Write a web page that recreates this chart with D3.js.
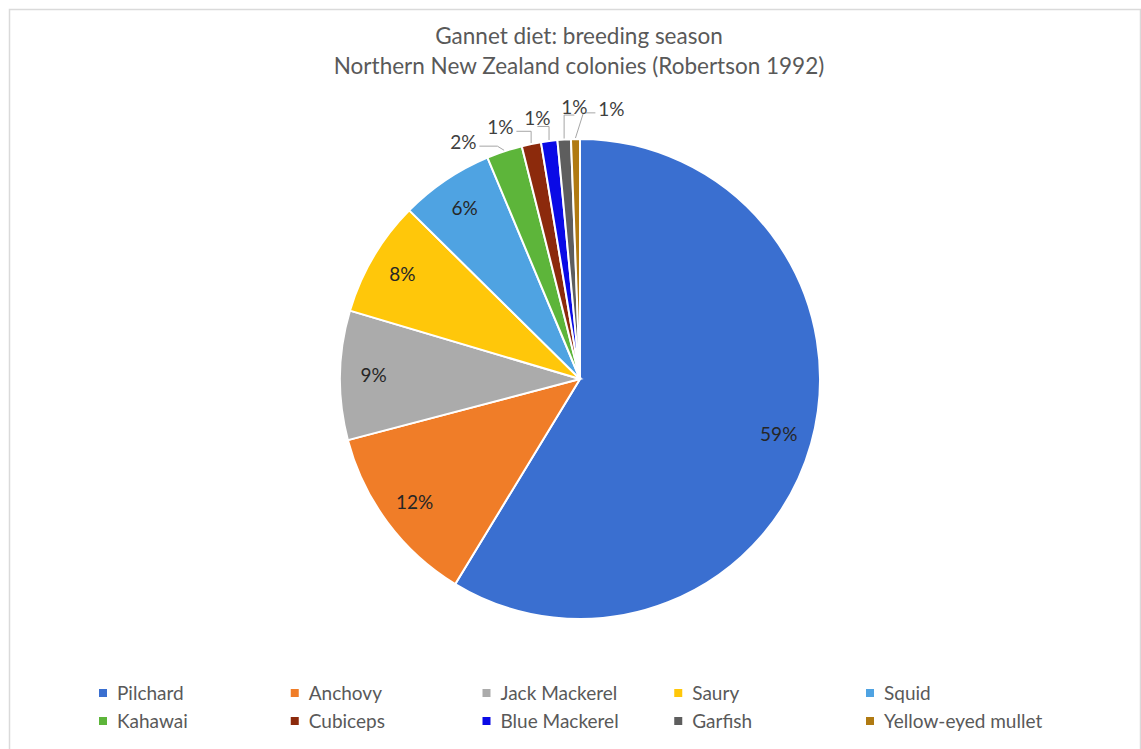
<!DOCTYPE html>
<html>
<head>
<meta charset="utf-8">
<script src="https://cdn.jsdelivr.net/npm/d3@7"></script>
<style>
  body { margin: 0; background: #fff; }
  text { font-family: Lato, "Open Sans", sans-serif; }
</style>
</head>
<body>
<div class="canvas"></div>
<script>
// data (percent of diet)
const species = ['Pilchard', 'Anchovy', 'Jack Mackerel', 'Saury', 'Squid',
                 'Kahawai', 'Cubiceps', 'Blue Mackerel', 'Garfish', 'Yellow-eyed mullet'];
const shares = [58.7, 12.2, 8.7, 7.8, 6.3, 2.4, 1.3, 1.1, 0.9, 0.6];
const colours = ['#3A6FD0', '#F07D28', '#ABABAB', '#FFC70A', '#4FA3E2',
                 '#5DB53A', '#8C2A0C', '#0A0AE6', '#5E5E5E', '#B07A12'];
const titleLines = ['Gannet diet: breeding season', 'Northern New Zealand colonies (Robertson 1992)'];

const dims = { width: 1141, height: 749, radius: 240 };
const cent = { x: 580, y: 379 };

const data = species.map((name, i) => ({ name, value: shares[i] }));

const svg = d3.select('.canvas')
    .append('svg')
    .attr('width', dims.width)
    .attr('height', dims.height);

// chart area frame
svg.append('rect')
    .attr('x', 9.5).attr('y', 9.5)
    .attr('width', dims.width - 10).attr('height', dims.height)
    .attr('fill', '#fff')
    .attr('stroke', '#DADADA')
    .attr('stroke-width', 1.5);

svg.selectAll('.title')
    .data(titleLines)
    .enter().append('text')
    .attr('class', 'title')
    .attr('x', cent.x - 1)
    .attr('y', (d, i) => 44 + i * 30)
    .attr('text-anchor', 'middle')
    .attr('fill', '#595959')
    .attr('font-size', 22.5)
    .text(d => d);

const color = d3.scaleOrdinal(species, colours);

const pie = d3.pie()
    .sort(null)
    .value(d => d.value);

const arcPath = d3.arc()
    .outerRadius(dims.radius)
    .innerRadius(0);

const labelArc = d3.arc()
    .outerRadius(dims.radius * 0.86)
    .innerRadius(dims.radius * 0.86);

const graph = svg.append('g')
    .attr('transform', `translate(${cent.x}, ${cent.y})`);

const arcs = pie(data);

graph.selectAll('path')
    .data(arcs)
    .enter().append('path')
    .attr('d', arcPath)
    .attr('fill', d => color(d.data.name))
    .attr('stroke', '#fff')
    .attr('stroke-width', 2);

const fmt = d => Math.round(d.data.value) + '%';
const inside = arcs.filter(d => d.data.value >= 5);
const outside = arcs.filter(d => d.data.value < 5);

graph.selectAll('.inLabel')
    .data(inside)
    .enter().append('text')
    .attr('class', 'inLabel')
    .attr('transform', d => `translate(${labelArc.centroid(d)})`)
    .attr('text-anchor', 'middle')
    .attr('dy', '0.35em')
    .attr('fill', '#262626')
    .attr('font-size', 19)
    .text(fmt);

// small slices: labels spread along a ring above the pie
const ringR = dims.radius + 24;
const mid = d => (d.startAngle + d.endAngle) / 2;
const natX = outside.map(d => ringR * Math.sin(mid(d)));
const meanX = d3.mean(natX) - 4;
const spread = 37;
outside.forEach((d, i) => {
    const lx = meanX + (i - (outside.length - 1) / 2) * spread;
    const ly = -Math.sqrt(ringR * ringR - lx * lx) - (i > 2 ? 8 : 0);
    const a = mid(d);
    const px = (dims.radius + 1) * Math.sin(a);
    const py = -(dims.radius + 1) * Math.cos(a);
    d.label = { x: lx, y: ly, px, py };
});

graph.selectAll('.leader')
    .data(outside)
    .enter().append('polyline')
    .attr('class', 'leader')
    .attr('fill', 'none')
    .attr('stroke', '#A6A6A6')
    .attr('stroke-width', 1)
    .attr('points', d => {
        const l = d.label;
        let ex = l.x, ey = l.y + 8;
        if (l.x + 16 < l.px) { ex = l.x + 16; ey = l.y + 4; }
        else if (l.x - 16 > l.px) { ex = l.x - 16; ey = l.y + 4; }
        const elbowX = ex === l.x ? l.px : (ex < l.px ? ex + Math.min(18, l.px - ex) : ex - Math.min(12, ex - l.px));
        return [[l.px, l.py], [elbowX, ey], [ex, ey]].join(' ');
    });

graph.selectAll('.outLabel')
    .data(outside)
    .enter().append('text')
    .attr('class', 'outLabel')
    .attr('x', d => d.label.x)
    .attr('y', d => d.label.y)
    .attr('text-anchor', 'middle')
    .attr('dy', '0.35em')
    .attr('fill', '#404040')
    .attr('font-size', 19)
    .text(fmt);

// legend: 5 columns, 2 rows
const colX = d3.scalePoint().domain(d3.range(5)).range([103, 870]);
const rowY = d3.scalePoint().domain([0, 1]).range([693, 721]);

const legend = svg.append('g');
const items = legend.selectAll('g')
    .data(species)
    .enter().append('g')
    .attr('transform', (d, i) => `translate(${colX(i % 5)}, ${rowY(Math.floor(i / 5))})`);

items.append('rect')
    .attr('x', -4).attr('y', -4)
    .attr('width', 8).attr('height', 8)
    .attr('fill', d => color(d));

items.append('text')
    .attr('x', 14)
    .attr('dy', '0.35em')
    .attr('fill', '#595959')
    .attr('font-size', 19)
    .text(d => d);
</script>
</body>
</html>
